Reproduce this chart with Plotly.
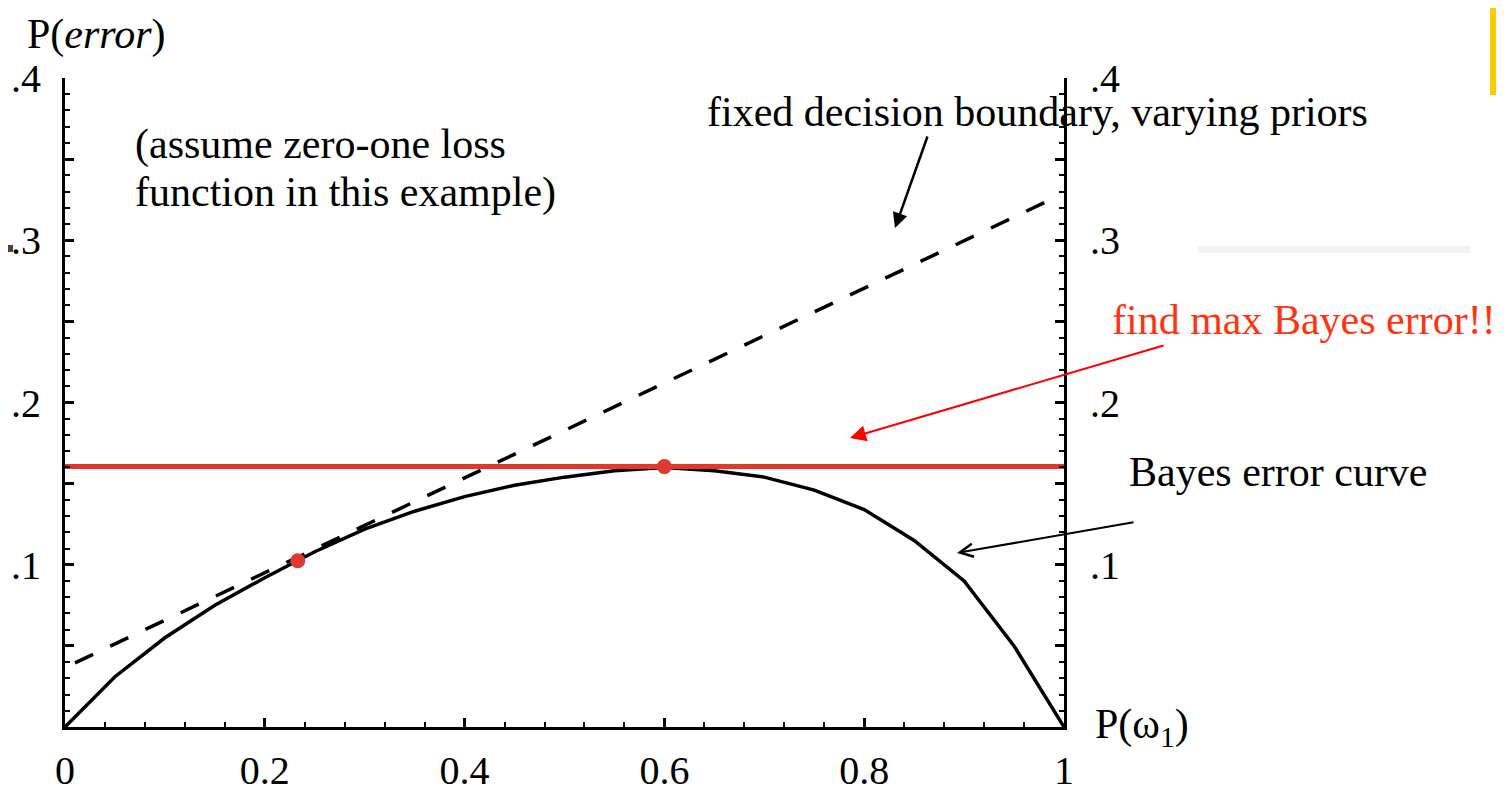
import plotly.graph_objects as go

# ---------------- data ----------------
prior_w1 = [0.0, 0.05, 0.10, 0.15, 0.20, 0.25, 0.30, 0.35, 0.40, 0.45, 0.50,
            0.55, 0.60, 0.65, 0.70, 0.75, 0.80, 0.85, 0.90, 0.95, 1.0]
bayes_error = [0.0, 0.031, 0.055, 0.075, 0.092, 0.108, 0.122, 0.133, 0.142, 0.149, 0.154,
               0.158, 0.160, 0.158, 0.154, 0.146, 0.134, 0.115, 0.090, 0.050, 0.0]

fixed_boundary_x = [0.01, 0.99]
fixed_boundary_y = [0.0395, 0.326]

max_bayes_x = [0.0, 1.0]
max_bayes_y = [0.1605, 0.1605]

marked_x = [0.233, 0.6]
marked_y = [0.1025, 0.1605]

x_tick_vals = [0, 0.2, 0.4, 0.6, 0.8, 1.0]
x_tick_text = ["0", "0.2", "0.4", "0.6", "0.8", "1"]
y_tick_vals = [0.05, 0.10, 0.15, 0.20, 0.25, 0.30, 0.35, 0.40]
y_tick_text = ["", ".1", "", ".2", "", ".3", "", ".4"]

# ---------------- layout helpers ----------------
# the page body has an 8px margin, so the figure is offset by 8px
OFF = 8
W, H = 1504 - OFF, 793 - OFF
SERIF = "Liberation Serif, Times New Roman, serif"


def fx(px):
    return (px - OFF) / W


def fy(py):
    return 1 - (py - OFF) / H


fig = go.Figure()

fig.add_trace(go.Scatter(x=prior_w1, y=bayes_error, mode="lines",
                         line=dict(color="black", width=3.5), hoverinfo="skip"))
fig.add_trace(go.Scatter(x=fixed_boundary_x, y=fixed_boundary_y, mode="lines",
                         line=dict(color="black", width=3.5, dash="20px,19px"),
                         hoverinfo="skip"))
fig.add_trace(go.Scatter(x=max_bayes_x, y=max_bayes_y, mode="lines",
                         line=dict(color="#e0382e", width=5), hoverinfo="skip"))
fig.add_trace(go.Scatter(x=marked_x, y=marked_y, mode="markers",
                         marker=dict(color="#e0382e", size=15), hoverinfo="skip"))
# invisible trace for right axis
fig.add_trace(go.Scatter(x=[0.5], y=[0.2], yaxis="y2", mode="markers",
                         marker=dict(opacity=0), hoverinfo="skip"))

tick_common = dict(showline=True, linecolor="black", linewidth=3,
                   ticks="inside", ticklen=9, tickwidth=3, tickcolor="black",
                   showgrid=False, zeroline=False, automargin=False,
                   tickfont=dict(family=SERIF, size=40, color="black"))

fig.update_layout(
    width=W, height=H,
    margin=dict(l=0, r=0, t=0, b=0, pad=0, autoexpand=False),
    paper_bgcolor="white", plot_bgcolor="white",
    showlegend=False,
    xaxis=dict(domain=[fx(65), fx(1064)], range=[0, 1],
               tickmode="array", tickvals=x_tick_vals, ticktext=x_tick_text,
               ticklabelstandoff=6,
               minor=dict(tickmode="linear", tick0=0, dtick=0.04, ticks="inside",
                          ticklen=5, tickwidth=2, tickcolor="black"),
               **tick_common),
    yaxis=dict(domain=[fy(727), fy(78)], range=[0, 0.4],
               tickmode="array", tickvals=y_tick_vals, ticktext=y_tick_text,
               ticklabelstandoff=13,
               minor=dict(tickmode="linear", tick0=0, dtick=0.01, ticks="inside",
                          ticklen=5, tickwidth=2, tickcolor="black"),
               **tick_common),
    yaxis2=dict(overlaying="y", side="right", anchor="x", range=[0, 0.4],
                tickmode="array", tickvals=y_tick_vals, ticktext=y_tick_text,
                ticklabelstandoff=15,
                minor=dict(tickmode="linear", tick0=0, dtick=0.01, ticks="inside",
                           ticklen=5, tickwidth=2, tickcolor="black"),
                **tick_common),
)

txt = dict(xref="paper", yref="paper", showarrow=False, xanchor="left",
           yanchor="middle", font=dict(family=SERIF, size=42, color="black"))

annotations = [
    dict(x=fx(25), y=fy(OFF + 1), text="P(<i>error</i>)",
         **{**txt, "yanchor": "top"}),
    dict(x=fx(133), y=fy(145), text="(assume zero-one loss", **txt),
    dict(x=fx(133), y=fy(193), text="function in this example)", **txt),
    dict(x=fx(705), y=fy(112), text="fixed decision boundary, varying priors", **txt),
    dict(x=fx(1127), y=fy(472), text="Bayes error curve", **txt),
    dict(x=fx(1093), y=fy(727), text="P(ω<sub>1</sub>)", **txt),
]
red_txt = dict(txt)
red_txt["font"] = dict(family=SERIF, size=42, color="#ff3311")
annotations.append(dict(x=fx(1110), y=fy(320), text="find max Bayes error!!", **red_txt))

arrow_common = dict(xref="paper", yref="paper", text="", showarrow=True,
                    standoff=0, startstandoff=0)
annotations += [
    dict(x=fx(895), y=fy(228), ax=33, ay=-93, arrowcolor="black", arrowwidth=2.5,
         arrowhead=2, arrowsize=1.2, **arrow_common),
    dict(x=fx(850), y=fy(438), ax=315, ay=-93, arrowcolor="#ff0000", arrowwidth=2,
         arrowhead=2, arrowsize=1.6, **arrow_common),
    dict(x=fx(957), y=fy(553), ax=178, ay=-31, arrowcolor="black", arrowwidth=2,
         arrowhead=5, arrowsize=1.3, **arrow_common),
]
fig.update_layout(annotations=annotations)

fig.update_layout(shapes=[
    dict(type="rect", xref="paper", yref="paper", x0=fx(1490), x1=fx(1504),
         y0=fy(95), y1=fy(OFF), fillcolor="#ffcc00", line=dict(width=0)),
    dict(type="rect", xref="paper", yref="paper", x0=fx(1198), x1=fx(1470),
         y0=fy(253), y1=fy(246), fillcolor="#f2f2f2", line=dict(width=0)),
    dict(type="rect", xref="paper", yref="paper", x0=fx(OFF), x1=fx(13),
         y0=fy(252), y1=fy(245), fillcolor="#444444", line=dict(width=0)),
])

fig.write_html("out.html", config={"displayModeBar": False})
